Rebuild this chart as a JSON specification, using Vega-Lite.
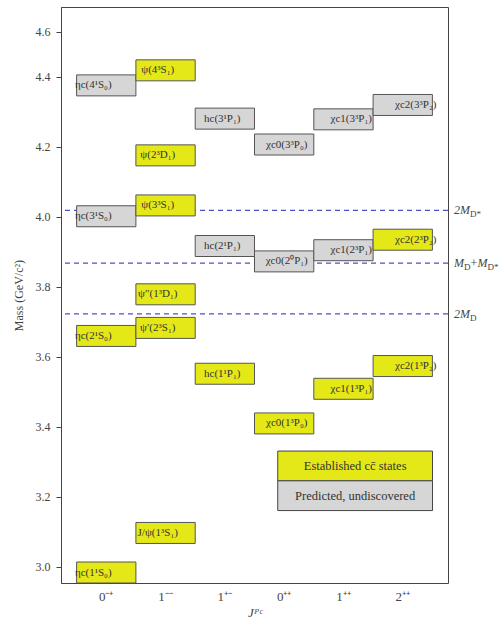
{
  "$schema": "https://vega.github.io/schema/vega-lite/v6.json",
  "width": 387,
  "height": 576,
  "autosize": {"type": "none"},
  "padding": {"left": 61, "top": 7, "right": 53, "bottom": 37},
  "config": {"view": {"stroke": "#444", "strokeWidth": 1}, "font": "Liberation Serif, Times New Roman, serif"},
  "datasets": {
    "states": [
      {"jpc": "0⁻⁺", "label": "ηc(1¹S₀)", "mass": 2.984, "status": "Established"},
      {"jpc": "0⁻⁺", "label": "ηc(2¹S₀)", "mass": 3.66, "status": "Established"},
      {"jpc": "0⁻⁺", "label": "ηc(3¹S₀)", "mass": 4.002, "status": "Predicted"},
      {"jpc": "0⁻⁺", "label": "ηc(4¹S₀)", "mass": 4.376, "status": "Predicted"},
      {"jpc": "1⁻⁻", "label": "J/ψ(1³S₁)", "mass": 3.097, "status": "Established"},
      {"jpc": "1⁻⁻", "label": "ψ′(2³S₁)", "mass": 3.683, "status": "Established"},
      {"jpc": "1⁻⁻", "label": "ψ″(1³D₁)", "mass": 3.779, "status": "Established"},
      {"jpc": "1⁻⁻", "label": "ψ(3³S₁)", "mass": 4.033, "status": "Established"},
      {"jpc": "1⁻⁻", "label": "ψ(2³D₁)", "mass": 4.176, "status": "Established"},
      {"jpc": "1⁻⁻", "label": "ψ(4³S₁)", "mass": 4.419, "status": "Established"},
      {"jpc": "1⁺⁻", "label": "hc(1¹P₁)", "mass": 3.552, "status": "Established"},
      {"jpc": "1⁺⁻", "label": "hc(2¹P₁)", "mass": 3.917, "status": "Predicted"},
      {"jpc": "1⁺⁻", "label": "hc(3¹P₁)", "mass": 4.281, "status": "Predicted"},
      {"jpc": "0⁺⁺", "label": "χc0(1³P₀)", "mass": 3.41, "status": "Established"},
      {"jpc": "0⁺⁺", "label": "χc0(2⁰P₁)", "mass": 3.873, "status": "Predicted"},
      {"jpc": "0⁺⁺", "label": "χc0(3³P₀)", "mass": 4.207, "status": "Predicted"},
      {"jpc": "1⁺⁺", "label": "χc1(1³P₁)", "mass": 3.509, "status": "Established"},
      {"jpc": "1⁺⁺", "label": "χc1(2³P₁)", "mass": 3.905, "status": "Predicted"},
      {"jpc": "1⁺⁺", "label": "χc1(3³P₁)", "mass": 4.279, "status": "Predicted"},
      {"jpc": "2⁺⁺", "label": "χc2(1³P₂)", "mass": 3.574, "status": "Established"},
      {"jpc": "2⁺⁺", "label": "χc2(2³P₂)", "mass": 3.935, "status": "Established"},
      {"jpc": "2⁺⁺", "label": "χc2(3³P₂)", "mass": 4.32, "status": "Predicted"}
    ],
    "thresholds": [
      {"name": "2MD*", "mass": 4.019},
      {"name": "MD+MD*", "mass": 3.868},
      {"name": "2MD", "mass": 3.723}
    ]
  },
  "resolve": {"scale": {"x": "independent"}},
  "layer": [
    {
      "data": {"name": "thresholds"},
      "mark": {"type": "rule", "stroke": "#5050c0", "strokeDash": [5, 4], "strokeWidth": 1.2},
      "encoding": {
        "y": {
          "field": "mass", "type": "quantitative",
          "scale": {"domain": [2.954, 4.6], "nice": false, "zero": false},
          "axis": {
            "title": "Mass (GeV/c²)",
            "values": [3.0, 3.2, 3.4, 3.6, 3.8, 4.0, 4.2, 4.4, 4.529],
            "labelExpr": "datum.value > 4.5 ? '4.6' : format(datum.value, '.1f')",
            "grid": false, "domainColor": "#444", "tickColor": "#444", "tickSize": 5,
            "labelFont": "Liberation Serif, Times New Roman, serif", "labelFontSize": 12, "labelColor": "#444", "labelPadding": 6,
            "titleFont": "Liberation Serif, Times New Roman, serif", "titleFontSize": 12, "titleFontWeight": "normal", "titleColor": "#444", "titlePadding": 10
          }
        }
      }
    },
    {
      "data": {"name": "states"},
      "mark": {"type": "tick", "thickness": 21, "size": 59.3, "stroke": "#555", "strokeWidth": 1, "opacity": 1},
      "encoding": {
        "x": {
          "field": "jpc", "type": "nominal",
          "scale": {"domain": ["0⁻⁺", "1⁻⁻", "1⁺⁻", "0⁺⁺", "1⁺⁺", "2⁺⁺"], "paddingInner": 0, "paddingOuter": 0.263},
          "axis": {
            "title": "Jᴾᶜ", "ticks": false, "domain": false, "labelAngle": 0,
            "labelFont": "Liberation Serif, Times New Roman, serif", "labelFontSize": 13, "labelColor": "#444", "labelPadding": 7,
            "titleFont": "Liberation Serif, Times New Roman, serif", "titleFontStyle": "italic", "titleFontWeight": "normal", "titleFontSize": 13, "titleColor": "#444", "titlePadding": 3
          }
        },
        "y": {"field": "mass", "type": "quantitative"},
        "color": {
          "field": "status", "type": "nominal",
          "scale": {"domain": ["Established", "Predicted"], "range": ["#e5e817", "#d6d6d6"]},
          "legend": null
        }
      }
    },
    {
      "data": {"name": "states"},
      "mark": {"type": "text", "fontSize": 11, "color": "#333", "font": "Liberation Serif, Times New Roman, serif"},
      "encoding": {
        "x": {
          "field": "jpc", "type": "nominal",
          "scale": {"domain": ["0⁻⁺", "1⁻⁻", "1⁺⁻", "0⁺⁺", "1⁺⁺", "2⁺⁺"], "paddingInner": 0, "paddingOuter": 0.263},
          "axis": null
        },
        "y": {"field": "mass", "type": "quantitative"},
        "text": {"field": "label"}
      }
    },
    {
      "data": {"values": [{}]},
      "mark": {"type": "rect", "fill": "#e5e817", "stroke": "#444", "strokeWidth": 1},
      "encoding": {
        "x": {"datum": 0.56, "type": "quantitative", "scale": {"domain": [0, 1], "nice": false, "zero": false}, "axis": null},
        "x2": {"datum": 0.96},
        "y": {"datum": 3.331, "type": "quantitative"},
        "y2": {"datum": 3.246}
      }
    },
    {
      "data": {"values": [{}]},
      "mark": {"type": "rect", "fill": "#d6d6d6", "stroke": "#444", "strokeWidth": 1},
      "encoding": {
        "x": {"datum": 0.56, "type": "quantitative", "scale": {"domain": [0, 1], "nice": false, "zero": false}, "axis": null},
        "x2": {"datum": 0.96},
        "y": {"datum": 3.246, "type": "quantitative"},
        "y2": {"datum": 3.161}
      }
    },
    {
      "data": {"values": [{}]},
      "mark": {"type": "text", "fontSize": 12.5, "color": "#333", "font": "Liberation Serif, Times New Roman, serif", "text": "Established cc̄ states"},
      "encoding": {
        "x": {"datum": 0.76, "type": "quantitative", "scale": {"domain": [0, 1], "nice": false, "zero": false}, "axis": null},
        "y": {"datum": 3.289, "type": "quantitative"}
      }
    },
    {
      "data": {"values": [{}]},
      "mark": {"type": "text", "fontSize": 12.5, "color": "#333", "font": "Liberation Serif, Times New Roman, serif", "text": "Predicted, undiscovered"},
      "encoding": {
        "x": {"datum": 0.76, "type": "quantitative", "scale": {"domain": [0, 1], "nice": false, "zero": false}, "axis": null},
        "y": {"datum": 3.204, "type": "quantitative"}
      }
    },
    {
      "data": {"name": "thresholds"},
      "transform": [{"filter": "datum.name === '2MD*' || datum.name === '2MD'"}],
      "mark": {"type": "text", "fontSize": 12, "fontStyle": "italic", "color": "#444", "font": "Liberation Serif, Times New Roman, serif", "align": "left", "dx": 6, "text": "2M"},
      "encoding": {
        "x": {"datum": 1, "type": "quantitative", "scale": {"domain": [0, 1], "nice": false, "zero": false}, "axis": null},
        "y": {"field": "mass", "type": "quantitative"}
      }
    },
    {
      "data": {"name": "thresholds"},
      "transform": [{"filter": "datum.name === '2MD*'"}],
      "mark": {"type": "text", "fontSize": 9, "color": "#444", "font": "Liberation Serif, Times New Roman, serif", "align": "left", "dx": 22, "dy": 4, "text": "D*"},
      "encoding": {
        "x": {"datum": 1, "type": "quantitative", "scale": {"domain": [0, 1], "nice": false, "zero": false}, "axis": null},
        "y": {"field": "mass", "type": "quantitative"}
      }
    },
    {
      "data": {"name": "thresholds"},
      "transform": [{"filter": "datum.name === '2MD'"}],
      "mark": {"type": "text", "fontSize": 9, "color": "#444", "font": "Liberation Serif, Times New Roman, serif", "align": "left", "dx": 22, "dy": 4, "text": "D"},
      "encoding": {
        "x": {"datum": 1, "type": "quantitative", "scale": {"domain": [0, 1], "nice": false, "zero": false}, "axis": null},
        "y": {"field": "mass", "type": "quantitative"}
      }
    },
    {
      "data": {"name": "thresholds"},
      "transform": [{"filter": "datum.name === 'MD+MD*'"}],
      "mark": {"type": "text", "fontSize": 12, "fontStyle": "italic", "color": "#444", "font": "Liberation Serif, Times New Roman, serif", "align": "left", "dx": 6, "text": "M"},
      "encoding": {
        "x": {"datum": 1, "type": "quantitative", "scale": {"domain": [0, 1], "nice": false, "zero": false}, "axis": null},
        "y": {"field": "mass", "type": "quantitative"}
      }
    },
    {
      "data": {"name": "thresholds"},
      "transform": [{"filter": "datum.name === 'MD+MD*'"}],
      "mark": {"type": "text", "fontSize": 9, "color": "#444", "font": "Liberation Serif, Times New Roman, serif", "align": "left", "dx": 16, "dy": 4, "text": "D"},
      "encoding": {
        "x": {"datum": 1, "type": "quantitative", "scale": {"domain": [0, 1], "nice": false, "zero": false}, "axis": null},
        "y": {"field": "mass", "type": "quantitative"}
      }
    },
    {
      "data": {"name": "thresholds"},
      "transform": [{"filter": "datum.name === 'MD+MD*'"}],
      "mark": {"type": "text", "fontSize": 12, "color": "#444", "font": "Liberation Serif, Times New Roman, serif", "align": "left", "dx": 22.5, "text": "+"},
      "encoding": {
        "x": {"datum": 1, "type": "quantitative", "scale": {"domain": [0, 1], "nice": false, "zero": false}, "axis": null},
        "y": {"field": "mass", "type": "quantitative"}
      }
    },
    {
      "data": {"name": "thresholds"},
      "transform": [{"filter": "datum.name === 'MD+MD*'"}],
      "mark": {"type": "text", "fontSize": 12, "fontStyle": "italic", "color": "#444", "font": "Liberation Serif, Times New Roman, serif", "align": "left", "dx": 29.5, "text": "M"},
      "encoding": {
        "x": {"datum": 1, "type": "quantitative", "scale": {"domain": [0, 1], "nice": false, "zero": false}, "axis": null},
        "y": {"field": "mass", "type": "quantitative"}
      }
    },
    {
      "data": {"name": "thresholds"},
      "transform": [{"filter": "datum.name === 'MD+MD*'"}],
      "mark": {"type": "text", "fontSize": 9, "color": "#444", "font": "Liberation Serif, Times New Roman, serif", "align": "left", "dx": 39.5, "dy": 4, "text": "D*"},
      "encoding": {
        "x": {"datum": 1, "type": "quantitative", "scale": {"domain": [0, 1], "nice": false, "zero": false}, "axis": null},
        "y": {"field": "mass", "type": "quantitative"}
      }
    }
  ]
}
